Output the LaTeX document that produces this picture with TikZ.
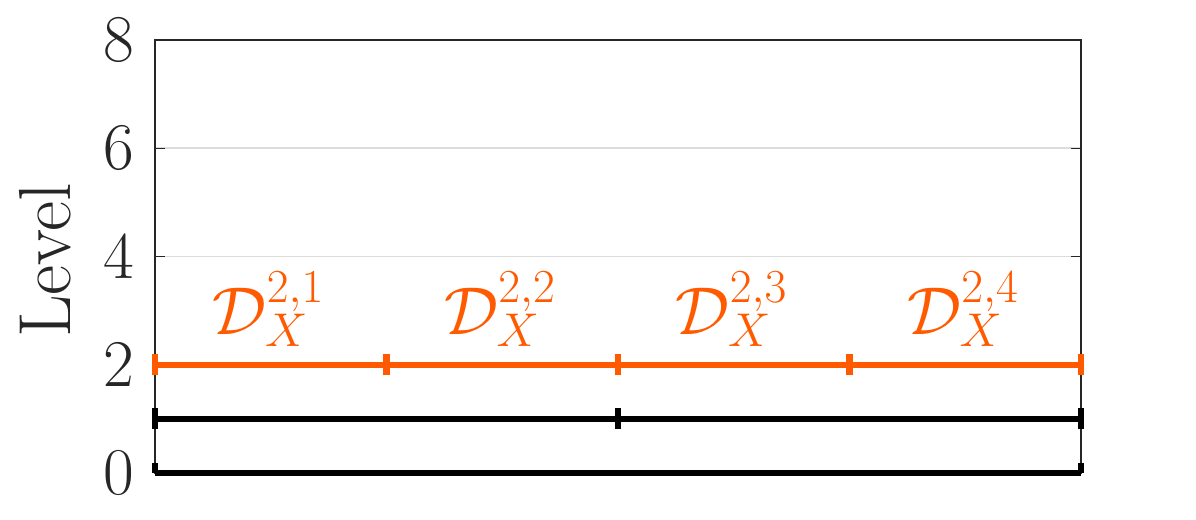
\RequirePackage{fix-cm}
\documentclass[tikz,border=0pt]{standalone}
\usepackage{fontspec}
\usetikzlibrary{positioning}
\definecolor{lvlorange}{HTML}{FF5A00}
\definecolor{axisgray}{HTML}{262626}
\definecolor{gridgray}{HTML}{DCDCDC}

\begin{document}
\begin{tikzpicture}[x=1cm,y=1.0825cm,
  ticklab/.style={anchor=east,inner sep=0pt,text=axisgray,font=\fontsize{38}{40}\selectfont},
  seglab/.style={anchor=base,inner sep=0pt,text=lvlorange,font=\fontsize{38.5}{42}\selectfont},
  lvlline/.style={line width=3.7pt},
  endbar/.style={line width=3.5pt}]
\useasboundingbox (0cm,0cm) rectangle (23.92cm,10.38cm);
\begin{scope}[shift={(3.1cm,0.92cm)}]
% grid and axes
\foreach \l in {2,4,6}
  \draw[gridgray,line width=0.9pt] (0,\l) -- (18.52,\l);
\draw[axisgray,line width=0.8pt] (0,0) rectangle (18.52,8);
\foreach \l in {0,2,4,6,8}{
  \draw[axisgray,line width=0.8pt] (0,\l) -- ++(0.2,0);
  \draw[axisgray,line width=0.8pt] (18.52,\l) -- ++(-0.2,0);
  \node[ticklab] (ylab\l) at (-0.4,\l) {\l};
}
\node[rotate=90,inner sep=0pt,text=axisgray,font=\fontsize{42}{44}\selectfont] (ylabel) at (-2.2,3.93) {Level};
% level 0
\coordinate (z0) at (0,0);
\coordinate (z1) at (18.52,0);
\draw[lvlline,black] (z0) -- (z1);
\foreach \c in {z0,z1}
  \draw[endbar,black] (\c) -- ++(0,0.19);
% level 1
\foreach \i in {0,1,2}
  \coordinate (b\i) at ({9.26*\i},1);
\draw[lvlline,black] (b0) -- (b2);
\foreach \i in {0,1,2}
  \draw[endbar,black] ([yshift=-0.21cm]b\i) -- ([yshift=0.21cm]b\i);
% level 2
\foreach \i in {0,...,4}
  \coordinate (o\i) at ({4.63*\i},2);
\draw[lvlline,lvlorange] (o0) -- (o4);
\foreach \i in {0,...,4}
  \draw[endbar,lvlorange] ([yshift=-0.21cm]o\i) -- ([yshift=0.21cm]o\i);
\foreach \k in {1,...,4}
  \node[seglab] (dlab\k) at ({4.63*\k-2.36},2.55) {$\mathcal{D}_X^{2,\k}$};
\end{scope}
\end{tikzpicture}
\end{document}
